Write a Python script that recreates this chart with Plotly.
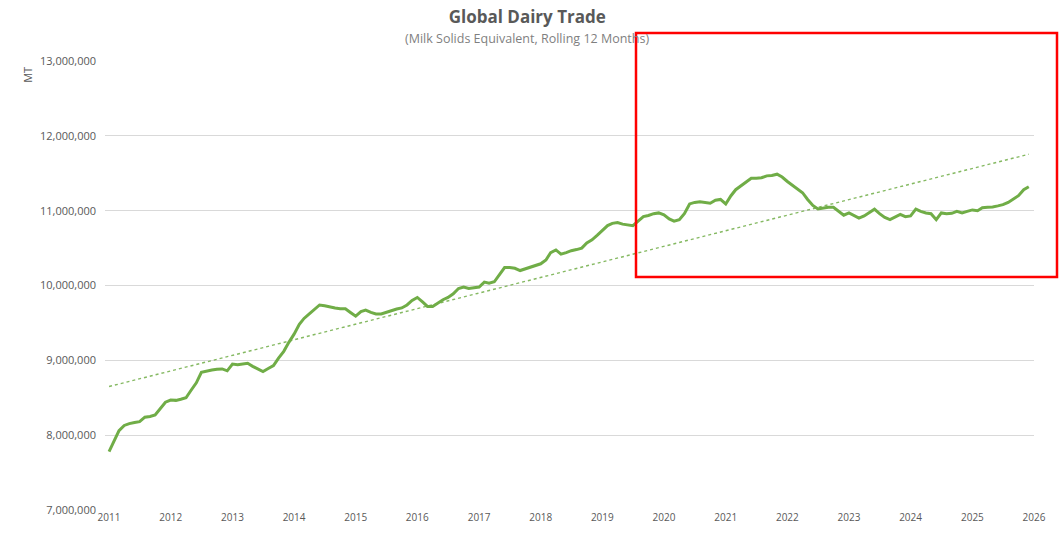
import numpy as np
import pandas as pd
import plotly.graph_objects as go

# Monthly rolling-12-month global dairy trade, million MT (milk solids equivalent)
years = list(range(2011, 2026))
values_by_year = {
    2011: [7.78, 7.93, 8.06, 8.13, 8.155, 8.17, 8.18, 8.24, 8.25, 8.27, 8.35, 8.44],
    2012: [8.47, 8.465, 8.48, 8.50, 8.60, 8.70, 8.84, 8.86, 8.87, 8.88, 8.885, 8.86],
    2013: [8.95, 8.94, 8.95, 8.96, 8.92, 8.88, 8.85, 8.89, 8.93, 9.03, 9.12, 9.24],
    2014: [9.35, 9.48, 9.56, 9.62, 9.68, 9.74, 9.73, 9.72, 9.70, 9.69, 9.69, 9.64],
    2015: [9.59, 9.65, 9.67, 9.64, 9.62, 9.62, 9.64, 9.67, 9.685, 9.70, 9.74, 9.80],
    2016: [9.84, 9.78, 9.72, 9.72, 9.77, 9.81, 9.84, 9.89, 9.96, 9.98, 9.96, 9.97],
    2017: [9.98, 10.045, 10.03, 10.05, 10.14, 10.24, 10.24, 10.23, 10.20, 10.22, 10.245, 10.27],
    2018: [10.29, 10.34, 10.44, 10.475, 10.42, 10.44, 10.465, 10.48, 10.50, 10.57, 10.61, 10.67],
    2019: [10.74, 10.80, 10.83, 10.84, 10.82, 10.81, 10.80, 10.86, 10.92, 10.935, 10.96, 10.97],
    2020: [10.944, 10.89, 10.86, 10.88, 10.96, 11.09, 11.11, 11.12, 11.11, 11.10, 11.14, 11.15],
    2021: [11.09, 11.20, 11.28, 11.33, 11.38, 11.434, 11.434, 11.44, 11.465, 11.47, 11.487, 11.45],
    2022: [11.39, 11.34, 11.30, 11.24, 11.15, 11.07, 11.024, 11.04, 11.047, 11.045, 10.99, 10.94],
    2023: [10.97, 10.93, 10.90, 10.93, 10.97, 11.02, 10.96, 10.91, 10.88, 10.92, 10.95, 10.92],
    2024: [10.93, 11.02, 10.99, 10.97, 10.96, 10.88, 10.97, 10.96, 10.965, 10.99, 10.97, 10.99],
    2025: [11.01, 11.00, 11.04, 11.047, 11.05, 11.064, 11.08, 11.11, 11.16, 11.20, 11.28, 11.32],
}

dates = pd.date_range("2011-01-01", periods=12 * len(years), freq="MS")
volumes = [v * 1_000_000 for y in years for v in values_by_year[y]]

y_ticks = list(range(7_000_000, 13_000_001, 1_000_000))

GREEN = "#70AD47"
GREY_TXT = "#595959"
GRID = "#D9D9D9"
FONT = "Open Sans"

# Linear trendline (least squares, as in the spreadsheet chart)
t = np.arange(len(volumes))
slope, intercept = np.polyfit(t, np.array(volumes), 1)
trend = slope * t + intercept

fig = go.Figure()
fig.add_trace(go.Scatter(
    x=dates, y=trend, mode="lines",
    line=dict(color="rgba(112,173,71,0.85)", width=1.4, dash="dot"),
    hoverinfo="skip", showlegend=False,
))
fig.add_trace(go.Scatter(
    x=dates, y=volumes, mode="lines",
    line=dict(color=GREEN, width=3),
    showlegend=False, name="Global Dairy Trade",
))

# plot area in page pixels: x 105..1034, y 61..510
fig.update_layout(
    width=1063, height=535,
    margin=dict(l=105, r=29, t=61, b=25),
    paper_bgcolor="white", plot_bgcolor="white",
    font=dict(family=FONT, color=GREY_TXT, size=10),
    title=dict(
        text="<b>Global Dairy Trade</b>",
        x=0.496, xanchor="center", y=1 - 17 / 535, yanchor="middle",
        font=dict(family=FONT, size=17, color=GREY_TXT),
    ),
    xaxis=dict(
        type="date",
        range=["2010-12-08", "2026-01-01"],
        tick0="2011-01-01", dtick="M12", tickformat="%Y",
        showgrid=False, zeroline=False, showline=False,
        ticks="", tickfont=dict(size=10, color=GREY_TXT),
    ),
    yaxis=dict(
        range=[7_000_000, 13_000_000],
        tickvals=y_ticks, tickformat=",d",
        showgrid=True, gridcolor=GRID, gridwidth=1.2,
        zeroline=False, showline=False, ticks="",
        ticklabelstandoff=8,
        tickfont=dict(size=11, color=GREY_TXT),
    ),
    annotations=[
        dict(text="(Milk Solids Equivalent, Rolling 12 Months)",
             xref="paper", yref="paper", x=0.454, y=1.051,
             xanchor="center", yanchor="middle", showarrow=False,
             font=dict(family=FONT, size=12.5, color="#7F7F7F")),
        dict(text="MT", xref="paper", yref="paper", x=-0.083, y=0.969,
             xanchor="center", yanchor="middle", textangle=-90, showarrow=False,
             font=dict(family=FONT, size=11, color=GREY_TXT)),
    ],
    shapes=[
        dict(type="rect", xref="paper", yref="paper",
             x0=(636 - 105) / 929, x1=(1057 - 105) / 929,
             y0=(510 - 277) / 449, y1=(510 - 33) / 449,
             line=dict(color="#FF0000", width=2.5), fillcolor="rgba(0,0,0,0)"),
    ],
)

fig.write_html(
    "out.html",
    config={"displayModeBar": False},
    post_script="document.body.style.margin='0px';document.body.style.overflow='hidden';",
)
